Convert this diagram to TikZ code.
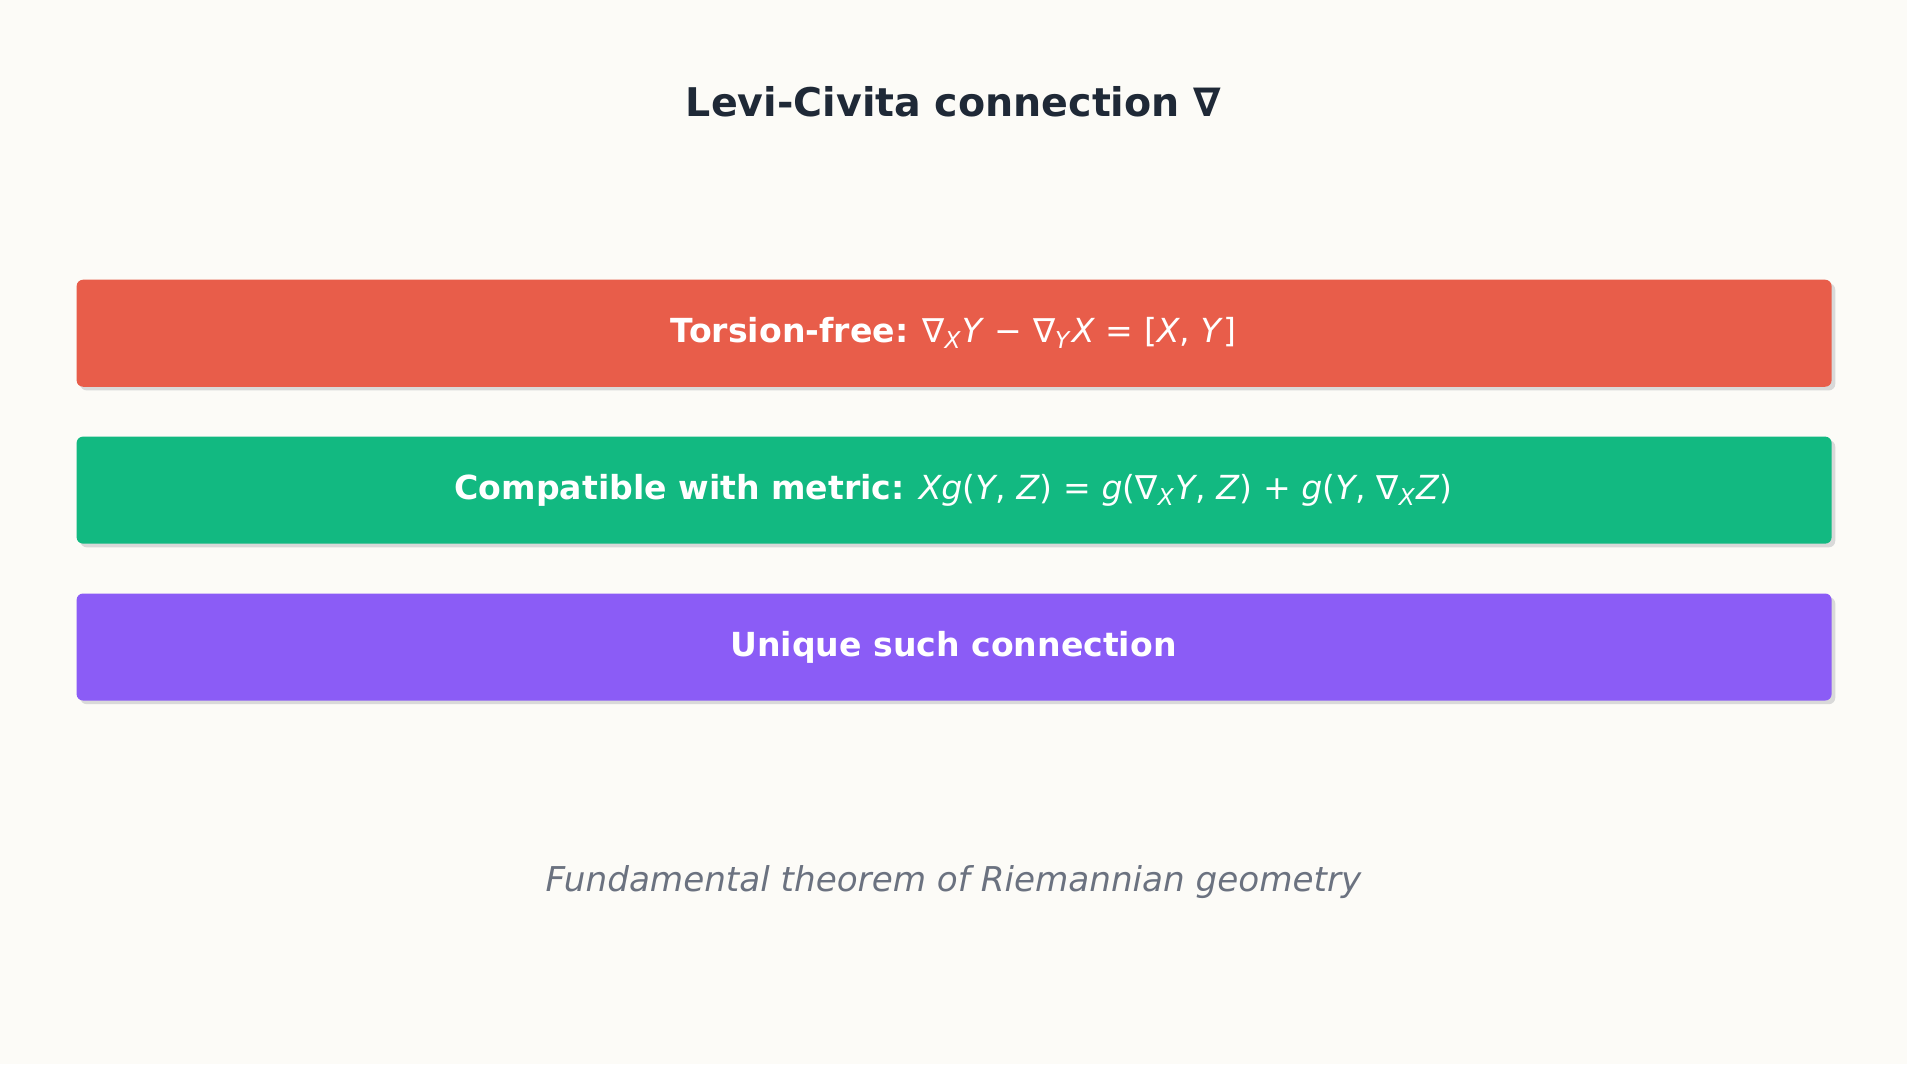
\documentclass[tikz,border=0pt]{standalone}
\usepackage{fontspec}
\setmainfont{DejaVu Sans}
\begin{document}
\newcommand{\sbx}[1]{\textsubscript{\textit{#1}}}
\newcommand{\iv}[1]{\textit{#1}}
\begin{tikzpicture}[x=0.02cm,y=-0.02cm,
  bar/.style={rounded corners=3pt,inner sep=0},
  lab/.style={text=white,font=\fontsize{15.5}{18}\selectfont,anchor=center}]
\definecolor{bg}{HTML}{FCFBF7}
\definecolor{c1}{HTML}{E85D4A}
\definecolor{c2}{HTML}{12B981}
\definecolor{c3}{HTML}{8B5CF6}
\definecolor{tt}{HTML}{1F2937}
\definecolor{ft}{HTML}{6B7280}
\fill[bg] (0,0) rectangle (1568,875);
\useasboundingbox (0,0) rectangle (1568,875);
\node[text=tt,font=\fontsize{18.5}{22}\selectfont\bfseries] (title) at (784,84) {Levi-Civita connection ∇};
\foreach \y/\c in {230/c1,359/c2,488/c3}{
  \fill[black!15,bar] (66,\y+3) rectangle (1509,\y+91);
  \fill[\c,bar] (63,\y) rectangle (1506,\y+88);
}
\node[lab] (b1) at (784,274) {\textbf{Torsion-free:} ∇\sbx{X}\iv{Y} − ∇\sbx{Y}\iv{X} = [\iv{X}, \iv{Y}]};
\node[lab] (b2) at (784,403) {\textbf{Compatible with metric:} \iv{Xg}(\iv{Y}, \iv{Z}) = \iv{g}(∇\sbx{X}\iv{Y}, \iv{Z}) + \iv{g}(\iv{Y}, ∇\sbx{X}\iv{Z})};
\node[lab] (b3) at (784,532) {\textbf{Unique such connection}};
\node[text=ft,font=\fontsize{16}{19}\selectfont\itshape] (foot) at (784,725) {Fundamental theorem of Riemannian geometry};
\end{tikzpicture}
\end{document}
